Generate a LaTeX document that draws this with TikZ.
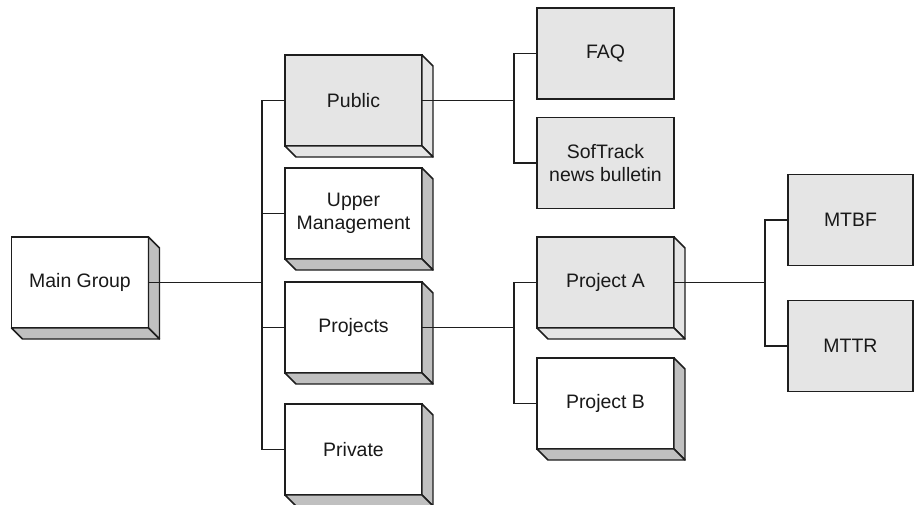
\documentclass[tikz,border=0pt]{standalone}
\usepackage{fontspec}
\setmainfont{Liberation Sans}
\definecolor{facegray}{RGB}{229,229,229}
\definecolor{sidegray}{RGB}{192,192,192}
\definecolor{ink}{RGB}{30,30,30}
\tikzset{
  boxbase/.style={draw=ink, line width=1.1pt, inner sep=0pt, outer sep=0pt,
    minimum width=102.75pt, minimum height=68.25pt, align=center,
    font=\fontsize{14.6pt}{17.5pt}\selectfont, text=black!90},
  wbox/.style={boxbase, fill=white},
  gbox/.style={boxbase, fill=facegray},
  nbox/.style={boxbase, fill=facegray, minimum width=93.75pt},
  link/.style={draw=ink, line width=0.85pt},
  sideface/.style={draw=ink, line width=1.1pt, line join=round}
}
\newcommand\boxdepth[2]{%
  \filldraw[sideface, fill=#2] (#1.north east) -- ([shift={(11,11)}]#1.north east)
     -- ([shift={(11,11)}]#1.south east) -- (#1.south east) -- cycle;
  \filldraw[sideface, fill=#2] (#1.south west) -- ([shift={(11,11)}]#1.south west)
     -- ([shift={(11,11)}]#1.south east) -- (#1.south east) -- cycle;
}
\begin{document}
\begin{tikzpicture}[x=0.75pt, y=-0.75pt]
\useasboundingbox (0,0) rectangle (916,504);
% level 0
\node[wbox] (main) at (80,282.5) {Main Group};
% level 1
\node[gbox] (public) at (353.5,100.5) {Public};
\node[wbox] (upper) at (353.5,213.5) {Upper\\Management};
\node[wbox] (projects) at (353.5,327.5) {Projects};
\node[wbox] (private) at (353.5,449.5) {Private};
% level 2
\node[gbox] (faq) at (605.5,53.5) {FAQ};
\node[gbox] (soft) at (605.5,163) {SofTrack\\news bulletin};
\node[gbox] (proja) at (605.5,282.5) {Project A};
\node[wbox] (projb) at (605.5,403.5) {Project B};
% level 3
\node[nbox] (mtbf) at (850.5,220) {MTBF};
\node[nbox] (mttr) at (850.5,346) {MTTR};
% depths
\boxdepth{main}{sidegray}
\boxdepth{public}{facegray}
\boxdepth{upper}{sidegray}
\boxdepth{projects}{sidegray}
\boxdepth{private}{sidegray}
\boxdepth{proja}{facegray}
\boxdepth{projb}{sidegray}
% bus points
\coordinate (b1) at (262,282.5);
\coordinate (b2) at (514,100.5);
\coordinate (b3) at (514,327.5);
\coordinate (b4) at (765,282.5);
% connectors
\draw[link] (main.east) -- (b1);
\draw[link] (public.west) -| (b1);
\draw[link] (upper.west) -| (b1);
\draw[link] (projects.west) -| (b1);
\draw[link] (private.west) -| (b1);
\draw[link] (public.east) -- (b2);
\draw[link] (faq.west) -| (b2);
\draw[link] (soft.west) -| (b2);
\draw[link] (projects.east) -- (b3);
\draw[link] (proja.west) -| (b3);
\draw[link] (projb.west) -| (b3);
\draw[link] (proja.east) -- (b4);
\draw[link] (mtbf.west) -| (b4);
\draw[link] (mttr.west) -| (b4);
\end{tikzpicture}
\end{document}
